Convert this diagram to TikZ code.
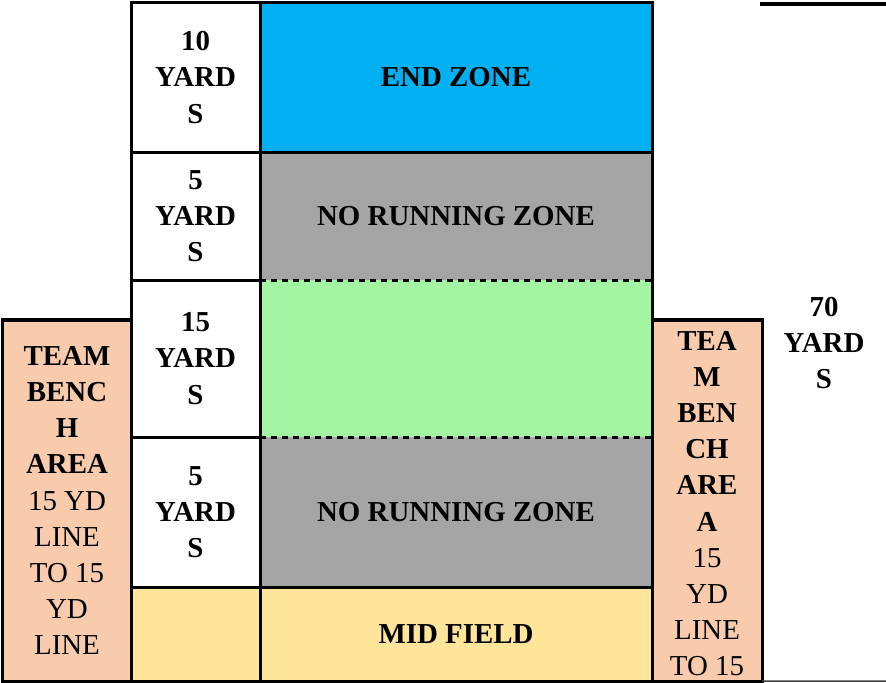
\documentclass[tikz,border=0pt]{standalone}
\usepackage{fontspec}
\setmainfont{Liberation Serif}
\definecolor{ezblue}{HTML}{00B0F0}
\definecolor{nrgrey}{HTML}{A5A5A5}
\definecolor{fgreen}{HTML}{A4F5A3}
\definecolor{mfyellow}{HTML}{FFE599}
\definecolor{bpeach}{HTML}{F8CBAD}
\tikzset{
  cell/.style={inner sep=0pt, outer sep=0pt, align=center,
    font=\fontsize{28.9bp}{36.2bp}\selectfont\bfseries},
  bench/.style={cell, draw=black, line width=3bp, fill=bpeach},
  border/.style={line width=3bp, black},
  dashline/.style={line width=3bp, black, dash pattern=on 6bp off 5bp},
}
\begin{document}
\begin{tikzpicture}[x=1bp,y=-1bp]
\useasboundingbox (0,0) rectangle (886,683);
% left column cells
\node[cell, fill=white, minimum width=129bp, minimum height=149bp] (l1) at (195.5,77.5) {10\\YARD\\S};
\node[cell, fill=white, minimum width=129bp, minimum height=128bp] (l2) at (195.5,216) {5\\YARD\\S};
\node[cell, fill=white, minimum width=129bp, minimum height=157bp] (l3) at (195.5,358.5) {15\\YARD\\S};
\node[cell, fill=white, minimum width=129bp, minimum height=150bp] (l4) at (195.5,512) {5\\YARD\\S};
\node[cell, fill=mfyellow, minimum width=129bp, minimum height=94bp] (l5) at (195.5,634) {};
% main column cells
\node[cell, fill=ezblue, minimum width=392bp, minimum height=149bp] (ez) at (456,77.5) {END ZONE};
\node[cell, fill=nrgrey, minimum width=392bp, minimum height=128bp] (nr1) at (456,216) {NO RUNNING ZONE};
\node[cell, fill=fgreen, minimum width=392bp, minimum height=157bp] (gr) at (456,358.5) {};
\node[cell, fill=nrgrey, minimum width=392bp, minimum height=150bp] (nr2) at (456,512) {NO RUNNING ZONE};
\node[cell, fill=mfyellow, minimum width=392bp, minimum height=94bp] (mf) at (456,634) {MID FIELD};
% grid lines
\draw[border] (l1.north west) -- (ez.north east) -- (mf.south east) -- (l5.south west) -- cycle;
\draw[border] (ez.north west) -- (mf.south west);
\draw[border] (l1.south west) -- (ez.south east);
\draw[border] (l2.south west) -- (l2.south east);
\draw[dashline] (nr1.south west) -- (nr1.south east);
\draw[border] (l3.south west) -- (l3.south east);
\draw[dashline] (gr.south west) -- (gr.south east);
\draw[border] (l4.south west) -- (nr2.south east);
% benches
\node[bench, minimum width=128bp, minimum height=361bp] (lb) at (67,500.5)
  {TEAM\\BENC\\H\\AREA\\\mdseries 15 YD\\\mdseries LINE\\\mdseries TO 15\\\mdseries YD\\\mdseries LINE};
\node[bench, minimum width=110bp, minimum height=361bp] (rb) at (707,500.5) {};
\node[cell, anchor=north] (rbt) at (707,331)
  {TEA\\M\\BEN\\CH\\ARE\\A\\\mdseries 15\\\mdseries YD\\\mdseries LINE\\\mdseries TO 15};
% 70 yards
\node[cell] (sev) at (824,343) {70\\YARD\\S};
\coordinate (tl1) at (760,4);
\coordinate (tl2) at (886,4);
\draw[line width=4bp] (tl1) -- (tl2);
\coordinate (bl2) at (886,681);
\draw[line width=1.5bp, black!75] (rb.south east) -- (bl2);
\end{tikzpicture}
\end{document}
